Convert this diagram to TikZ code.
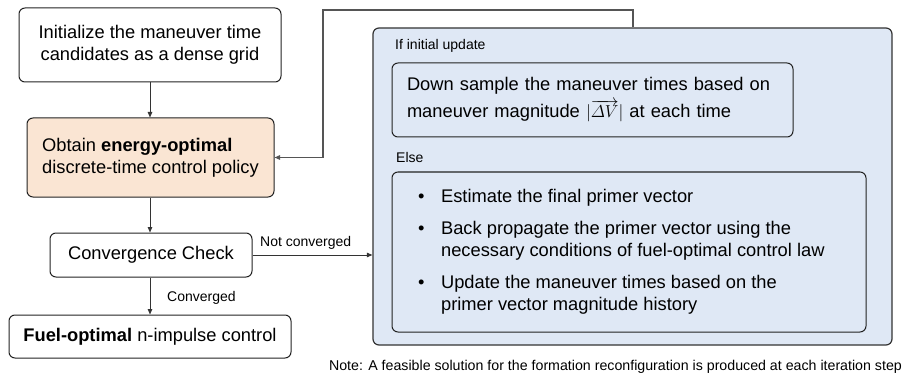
\documentclass[tikz,border=0pt]{standalone}
\usepackage{amsmath}
\usepackage{fontspec}
\setmainfont{Liberation Sans}
\usetikzlibrary{arrows.meta,calc}
\definecolor{peach}{HTML}{FAE5D3}
\definecolor{lblue}{HTML}{DFE8F5}
\definecolor{edge}{HTML}{222222}
\definecolor{darkline}{HTML}{333333}
\definecolor{fbgray}{HTML}{555555}
\begin{document}
\begin{tikzpicture}[x=1pt,y=-1pt,
  box/.style={draw=edge, line width=1pt, rounded corners=6pt, inner sep=0pt},
  main/.style={font=\fontsize{18.3}{22}\selectfont},
  small/.style={font=\fontsize{14}{16.8}\selectfont, inner sep=0pt},
  arr/.style={draw=darkline, line width=0.9pt, -{Triangle[length=5.5pt,width=4.5pt]}},
  fbline/.style={draw=fbgray, line width=1.3pt, -{Triangle[length=5.5pt,width=4.5pt]}}]
\useasboundingbox (0,0) rectangle (905,377);

% left column
\node[box, main, minimum width=262pt, minimum height=74pt, align=center] (init) at (150,45)
  {Initialize the maneuver time\\candidates as a dense grid};
\node[box, main, fill=peach, minimum width=247pt, minimum height=79pt, align=left] (energy) at (150.5,157.5)
  {Obtain \textbf{energy-optimal}\\discrete-time control policy};
\node[box, main, minimum width=202pt, minimum height=44pt] (conv) at (151,255) {Convergence Check};
\node[box, main, minimum width=282pt, minimum height=43pt] (fuel) at (150,336.5)
  {\textbf{Fuel-optimal} n-impulse control};

% update block
\node[box, fill=lblue, draw=darkline, line width=1.2pt, minimum width=519pt, minimum height=317pt]
  (update) at (632.5,186.5) {};
\node[small, anchor=base west] (ifl) at (395,50) {If initial update};
\node[box, main, minimum width=401pt, minimum height=74pt, text width=371pt, inner xsep=15pt,
  align=left] (down) at (592.5,100)
  {Down sample the maneuver times based on\\[5pt]maneuver magnitude $|\smash{\overrightarrow{\varDelta V}}|$ at each time};
\node[small, anchor=base west] (elsel) at (396,162) {Else};
\node[box, minimum width=474pt, minimum height=160pt] (elsebox) at (629,252) {};
\node[main, anchor=west, inner sep=0pt] (list) at (418,252)
  {\begin{tabular}{@{}l@{\hspace{16.5pt}}l@{}}
   •&Estimate the final primer vector\\[10pt]
   •&Back propagate the primer vector using the\\
    &necessary conditions of fuel-optimal control law\\[10pt]
   •&Update the maneuver times based on the\\
    &primer vector magnitude history
   \end{tabular}};

% labels
\node[small, anchor=base west] (ncl) at (260,246) {Not converged};
\node[small, anchor=base west] (cl) at (167,301) {Converged};
\node[small, font=\fontsize{14.2}{17}\selectfont, anchor=base] (note) at (615.5,370)
  {Note: A feasible solution for the formation reconfiguration is produced at each iteration step};

% connectors
\draw[arr] (init.south) -- (init.south |- energy.north);
\draw[arr] (init.south |- energy.south) -- (init.south |- conv.north);
\draw[arr] (init.south |- conv.south) -- (init.south |- fuel.north);
\draw[arr] (conv.east) -- (conv.east -| update.west);
\coordinate (fbA) at (633,10);
\coordinate (fbB) at (323,10);
\draw[fbline] (fbA |- update.north) -- (fbA) -- (fbB) |- (energy.east);
\end{tikzpicture}
\end{document}
